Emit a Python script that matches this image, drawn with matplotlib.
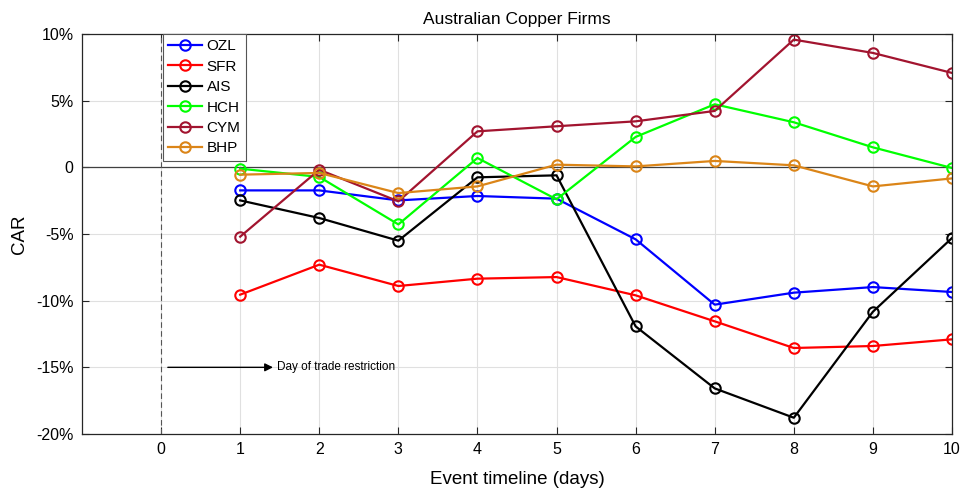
import matplotlib
matplotlib.use("Agg")
import matplotlib.pyplot as plt

plt.rcParams['font.family'] = ['Liberation Sans', 'DejaVu Sans']

days = [1, 2, 3, 4, 5, 6, 7, 8, 9, 10]
OZL = [-1.73, -1.73, -2.48, -2.15, -2.35, -5.4, -10.3, -9.4, -8.98, -9.35]
SFR = [-9.55, -7.3, -8.9, -8.35, -8.23, -9.6, -11.55, -13.55, -13.4, -12.9]
AIS = [-2.48, -3.8, -5.5, -0.75, -0.6, -11.93, -16.58, -18.78, -10.83, -5.3]
HCH = [-0.1, -0.72, -4.28, 0.7, -2.4, 2.28, 4.73, 3.38, 1.5, -0.05]
CYM = [-5.2, -0.18, -2.55, 2.7, 3.08, 3.45, 4.23, 9.58, 8.58, 7.08]
BHP = [-0.55, -0.42, -1.93, -1.43, 0.2, 0.07, 0.48, 0.15, -1.43, -0.83]

series = [("OZL", OZL, "#0000FF"), ("SFR", SFR, "#FF0000"), ("AIS", AIS, "#000000"),
          ("HCH", HCH, "#00FF00"), ("CYM", CYM, "#A2142F"), ("BHP", BHP, "#DB8518")]

ytick_vals = [10, 5, 0, -5, -10, -15, -20]
ytick_labels = ["10%", "5%", "0", "-5%", "-10%", "-15%", "-20%"]
xtick_vals = list(range(0, 11))

fig = plt.figure(figsize=(9.63, 4.93), dpi=100)
ax = fig.add_axes([82/963, 1-434/493, (952-82)/963, 400/493])

for name, vals, col in series:
    ax.plot(days, vals, color=col, lw=1.6, marker='o', ms=7.5, mfc='none', mew=1.5, label=name)

ax.axhline(0, color='#404040', lw=0.9, zorder=1)
ax.axvline(0, color='#555555', lw=0.8, ls=(0, (5, 3)), zorder=1)

ax.set_xlim(-1, 10)
ax.set_ylim(-20, 10)
ax.set_xticks(xtick_vals)
ax.set_yticks(ytick_vals)
ax.set_yticklabels(ytick_labels)
ax.tick_params(axis='both', which='both', direction='in', top=True, right=True, labelsize=11.5, length=5, color='#262626')
ax.tick_params(axis='x', pad=5.5)
ax.tick_params(axis='y', pad=6)
ax.grid(True, color='#e0e0e0', lw=0.8)
ax.set_axisbelow(True)
for s in ax.spines.values():
    s.set_color('#262626')
    s.set_linewidth(0.9)

ax.set_title("Australian Copper Firms", fontsize=12.5, pad=7)
ax.set_xlabel("Event timeline (days)", fontsize=13.5, labelpad=10)
ax.set_ylabel("CAR", fontsize=13.5, labelpad=6)

ax.annotate("", xy=(1.45, -15), xytext=(0.05, -15),
            arrowprops=dict(arrowstyle='-|>', color='black', lw=1.0, mutation_scale=12))
ax.text(1.47, -15, "Day of trade restriction", fontsize=8.5, va='center', ha='left')

leg = ax.legend(loc='upper left', bbox_to_anchor=((163-82)/870, 1.0), fontsize=11,
                frameon=True, fancybox=False, edgecolor='#555555', framealpha=1,
                handlelength=2.2, borderpad=0.35, labelspacing=0.42, handletextpad=0.3,
                borderaxespad=0)
leg.get_frame().set_linewidth(0.8)

fig.savefig("out.png", dpi=100)
